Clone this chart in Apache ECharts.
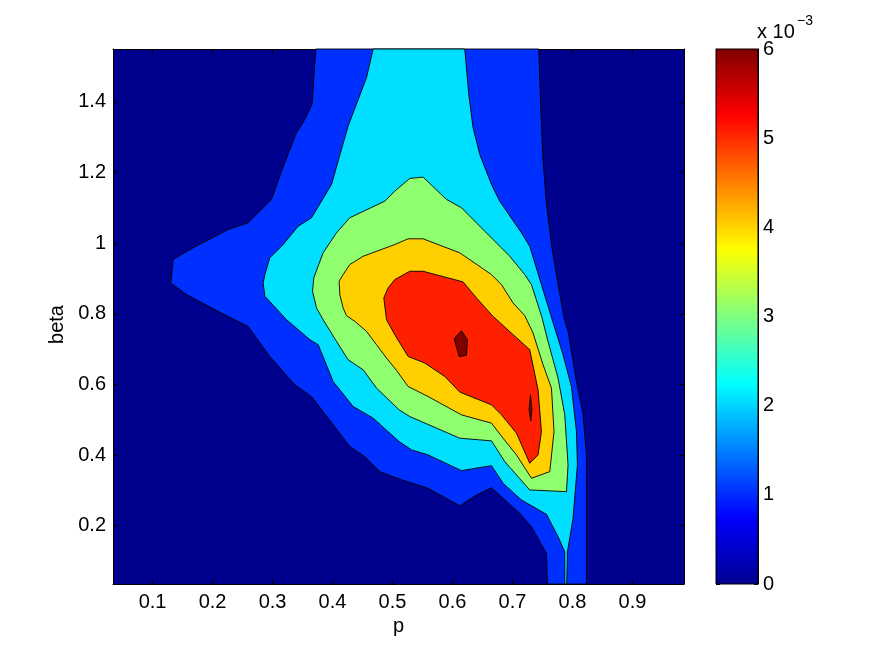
<!DOCTYPE html>
<html>
<head>
<meta charset="utf-8">
<script src="https://cdn.jsdelivr.net/npm/echarts@6/dist/echarts.min.js"></script>
<style>
html, body { margin: 0; background: #fff; }
#chart { width: 875px; height: 659px; }
</style>
</head>
<body>
<div id="chart"></div>
<script>
// axis ranges and ticks
const pRange = [0.034, 0.986];
const betaRange = [0.035, 1.55];
const pTicks = [0.1, 0.2, 0.3, 0.4, 0.5, 0.6, 0.7, 0.8, 0.9];
const betaTicks = [0.2, 0.4, 0.6, 0.8, 1, 1.2, 1.4];
const cbarRange = [0, 6]; // x 10^-3

// contour levels (x 10^-3) and their fill colours (jet)
const levels = [0, 1, 2, 3, 4, 5, 6];
const levelColors = ['#00008f', '#0030ff', '#00dfff', '#8fff70', '#ffcf00', '#ff2000', '#800000'];

// region >= 1e-3, traced as [p, beta]
const level1 = [
    [0.3722, 1.55], [0.3688, 1.469], [0.366, 1.3935], [0.351, 1.3416], [0.34, 1.3132],
    [0.315, 1.2043], [0.2983, 1.124], [0.2593, 1.0579], [0.226, 1.0389], [0.1677, 0.987],
    [0.1343, 0.9538], [0.1305, 0.8877], [0.1567, 0.8545], [0.2255, 0.7927], [0.2593, 0.7645],
    [0.2955, 0.6794], [0.3372, 0.5991], [0.365, 0.566], [0.3927, 0.5047], [0.4288, 0.4241],
    [0.4538, 0.3957], [0.4788, 0.3532], [0.511, 0.3325], [0.5593, 0.3061], [0.6122, 0.2567],
    [0.64, 0.2871], [0.665, 0.3078], [0.7122, 0.2352], [0.7317, 0.1972], [0.7567, 0.1217],
    [0.7583, 0.035], [0.8233, 0.035], [0.8233, 0.4006], [0.8177, 0.514], [0.8067, 0.6085],
    [0.7927, 0.7504], [0.786, 0.7884], [0.776, 0.8828], [0.765, 0.9963], [0.7567, 1.1098],
    [0.751, 1.2326], [0.7472, 1.3745], [0.7438, 1.55]
];

// region >= 2e-3
const level2 = [
    [0.4677, 1.55], [0.4567, 1.469], [0.426, 1.3319], [0.3983, 1.1665], [0.365, 1.0721],
    [0.3427, 1.0482], [0.3177, 0.9963], [0.2955, 0.9586], [0.2872, 0.9112], [0.2843, 0.8877],
    [0.2872, 0.8496], [0.3233, 0.7835], [0.3622, 0.7268], [0.376, 0.7126], [0.401, 0.6085],
    [0.4343, 0.5376], [0.4677, 0.5047], [0.511, 0.4383], [0.5317, 0.4148], [0.5593, 0.4006],
    [0.615, 0.356], [0.665, 0.3702], [0.6843, 0.3203], [0.715, 0.2729], [0.7567, 0.2323],
    [0.776, 0.1688], [0.7872, 0.1262], [0.7872, 0.035], [0.7905, 0.035], [0.7917, 0.1262],
    [0.801, 0.221], [0.8083, 0.3722], [0.8067, 0.4667], [0.7983, 0.5943], [0.7843, 0.6843],
    [0.7647, 0.792], [0.7483, 0.8828], [0.7288, 0.9915], [0.715, 1.0295], [0.6788, 1.1191],
    [0.665, 1.1665], [0.6455, 1.2516], [0.6343, 1.3274], [0.6272, 1.4218], [0.6205, 1.55]
];

// region >= 3e-3
const level3 = [
    [0.5288, 1.1835], [0.5038, 1.1475], [0.4872, 1.1191], [0.4288, 1.0721], [0.4067, 1.0295],
    [0.3843, 0.9728], [0.3688, 0.9018], [0.3667, 0.8638], [0.3733, 0.8167], [0.3843, 0.7835],
    [0.4067, 0.722], [0.426, 0.6701], [0.451, 0.6417], [0.4733, 0.5898], [0.511, 0.5282],
    [0.5288, 0.5092], [0.6122, 0.4479], [0.665, 0.4403], [0.6872, 0.3816], [0.7288, 0.3013],
    [0.79, 0.2965], [0.7927, 0.3722], [0.7872, 0.514], [0.776, 0.6182], [0.7593, 0.722],
    [0.7488, 0.792], [0.7317, 0.8828], [0.7205, 0.9112], [0.6955, 0.9631], [0.6705, 1.0057],
    [0.6455, 1.0482], [0.615, 1.1004], [0.59, 1.124], [0.551, 1.1872]
];

// region >= 4e-3
const level4 = [
    [0.526, 1.0125], [0.5038, 0.9963], [0.451, 0.9631], [0.4288, 0.9396], [0.4177, 0.9112],
    [0.411, 0.8922], [0.4122, 0.8545], [0.4177, 0.8167], [0.4233, 0.7949], [0.4372, 0.7787],
    [0.4567, 0.7504], [0.4733, 0.7126], [0.49, 0.6749], [0.5072, 0.6389], [0.526, 0.5943],
    [0.5593, 0.566], [0.615, 0.514], [0.665, 0.4905], [0.6843, 0.4479], [0.7067, 0.4006],
    [0.7317, 0.3345], [0.7622, 0.3532], [0.7693, 0.4667], [0.765, 0.5898], [0.751, 0.6559],
    [0.7343, 0.7458], [0.7205, 0.7949], [0.701, 0.8309], [0.6817, 0.8828], [0.665, 0.9112],
    [0.6122, 0.9728], [0.551, 1.0125]
];

// region >= 5e-3
const level5 = [
    [0.5288, 0.9206], [0.5038, 0.897], [0.4927, 0.8735], [0.4855, 0.8451], [0.49, 0.7835],
    [0.5038, 0.741], [0.526, 0.6794], [0.5538, 0.6607], [0.5872, 0.6227], [0.6122, 0.5784],
    [0.665, 0.5424], [0.6817, 0.514], [0.7067, 0.4621], [0.7288, 0.377], [0.7427, 0.4006],
    [0.7483, 0.4667], [0.7427, 0.585], [0.7288, 0.6984], [0.6672, 0.7935], [0.64, 0.8451],
    [0.6177, 0.8905], [0.551, 0.9206]
];

// region >= 6e-3 (two small islands)
const level6a = [
    [0.6027, 0.7296], [0.615, 0.7523], [0.625, 0.7268], [0.6233, 0.6823], [0.611, 0.6794]
];
const level6b = [
    [0.73, 0.5708], [0.7325, 0.5282], [0.7305, 0.497], [0.7277, 0.5282]
];

const fontFamily = '"Liberation Sans", Helvetica, Arial, sans-serif';
const chart = echarts.init(document.getElementById('chart'));

function polyItem(pts, color) {
    return function (params, api) {
        if (params.dataIndex !== 0) return null;
        return {
            type: 'polygon',
            shape: { points: pts.map(d => api.coord(d)) },
            style: { fill: color, stroke: '#000', lineWidth: 0.9 }
        };
    };
}

function contourSeries(pts, color) {
    return {
        type: 'custom',
        xAxisIndex: 0,
        yAxisIndex: 0,
        silent: true,
        data: pts,
        renderItem: polyItem(pts, color)
    };
}

const axisText = { color: '#000', fontSize: 20, fontFamily: fontFamily };

const option = {
    animation: false,
    textStyle: { fontFamily: fontFamily },
    grid: [
        { left: 113, right: 191, top: 49, bottom: 75, show: true, backgroundColor: levelColors[0], borderWidth: 0 },
        { left: 716, width: 42, top: 49, bottom: 75 }
    ],
    xAxis: [
        {
            type: 'value', gridIndex: 0, min: pRange[0], max: pRange[1],
            name: 'p', nameLocation: 'middle', nameGap: 26,
            nameTextStyle: axisText,
            axisLine: { show: true, onZero: false, lineStyle: { color: '#000', width: 1 } },
            axisTick: { show: true, inside: true, length: 5, customValues: pTicks, lineStyle: { color: '#000' } },
            axisLabel: Object.assign({ margin: 8, customValues: pTicks }, axisText),
            splitLine: { show: false }
        },
        {
            type: 'value', gridIndex: 0, position: 'top', min: pRange[0], max: pRange[1],
            axisLine: { show: true, onZero: false, lineStyle: { color: '#000', width: 1 } },
            axisTick: { show: true, inside: true, length: 5, customValues: pTicks, lineStyle: { color: '#000' } },
            axisLabel: { show: false },
            splitLine: { show: false }
        },
        {
            type: 'value', gridIndex: 1, min: 0, max: 1, show: false
        }
    ],
    yAxis: [
        {
            type: 'value', gridIndex: 0, min: betaRange[0], max: betaRange[1],
            name: 'beta', nameLocation: 'middle', nameGap: 45, nameRotate: 90,
            nameTextStyle: Object.assign({ padding: [0, 16, 0, 0] }, axisText),
            axisLine: { show: true, onZero: false, lineStyle: { color: '#000', width: 1 } },
            axisTick: { show: true, inside: true, length: 5, customValues: betaTicks, lineStyle: { color: '#000' } },
            axisLabel: Object.assign({ margin: 7, customValues: betaTicks }, axisText),
            splitLine: { show: false }
        },
        {
            type: 'value', gridIndex: 0, position: 'right', min: betaRange[0], max: betaRange[1],
            axisLine: { show: true, onZero: false, lineStyle: { color: '#000', width: 1 } },
            axisTick: { show: true, inside: true, length: 5, customValues: betaTicks, lineStyle: { color: '#000' } },
            axisLabel: { show: false },
            splitLine: { show: false }
        },
        {
            type: 'value', gridIndex: 1, position: 'right', min: cbarRange[0], max: cbarRange[1], interval: 1,
            axisLine: { show: true, onZero: false, lineStyle: { color: '#000', width: 1 } },
            axisTick: { show: true, inside: true, length: 4, lineStyle: { color: '#000' } },
            axisLabel: Object.assign({ margin: 5 }, axisText),
            splitLine: { show: false }
        },
        {
            type: 'value', gridIndex: 1, position: 'left', min: cbarRange[0], max: cbarRange[1], interval: 1,
            axisLine: { show: true, onZero: false, lineStyle: { color: '#000', width: 1 } },
            axisTick: { show: true, inside: true, length: 4, lineStyle: { color: '#000' } },
            axisLabel: { show: false },
            splitLine: { show: false }
        }
    ],
    graphic: [
        { type: 'text', left: 757, top: 22, style: { text: 'x 10', fill: '#000', font: '20px ' + fontFamily } },
        { type: 'text', left: 797, top: 14, style: { text: '\u22123', fill: '#000', font: '14px ' + fontFamily } }
    ],
    series: [
        contourSeries(level1, levelColors[1]),
        contourSeries(level2, levelColors[2]),
        contourSeries(level3, levelColors[3]),
        contourSeries(level4, levelColors[4]),
        contourSeries(level5, levelColors[5]),
        contourSeries(level6a, levelColors[6]),
        contourSeries(level6b, levelColors[6]),
        {
            // colorbar
            type: 'custom',
            xAxisIndex: 2,
            yAxisIndex: 2,
            silent: true,
            data: [[0, cbarRange[0]], [1, cbarRange[1]]],
            renderItem: function (params, api) {
                if (params.dataIndex !== 0) return null;
                const a = api.coord([0, cbarRange[1]]);
                const b = api.coord([1, cbarRange[0]]);
                return {
                    type: 'rect',
                    shape: { x: a[0], y: a[1], width: b[0] - a[0], height: b[1] - a[1] },
                    style: {
                        fill: new echarts.graphic.LinearGradient(0, 0, 0, 1, [
                            { offset: 0, color: '#800000' },
                            { offset: 0.125, color: '#ff0000' },
                            { offset: 0.375, color: '#ffff00' },
                            { offset: 0.625, color: '#00ffff' },
                            { offset: 0.875, color: '#0000ff' },
                            { offset: 1, color: '#000090' }
                        ]),
                        stroke: '#000',
                        lineWidth: 1
                    }
                };
            }
        }
    ]
};

chart.setOption(option);
</script>
</body>
</html>
